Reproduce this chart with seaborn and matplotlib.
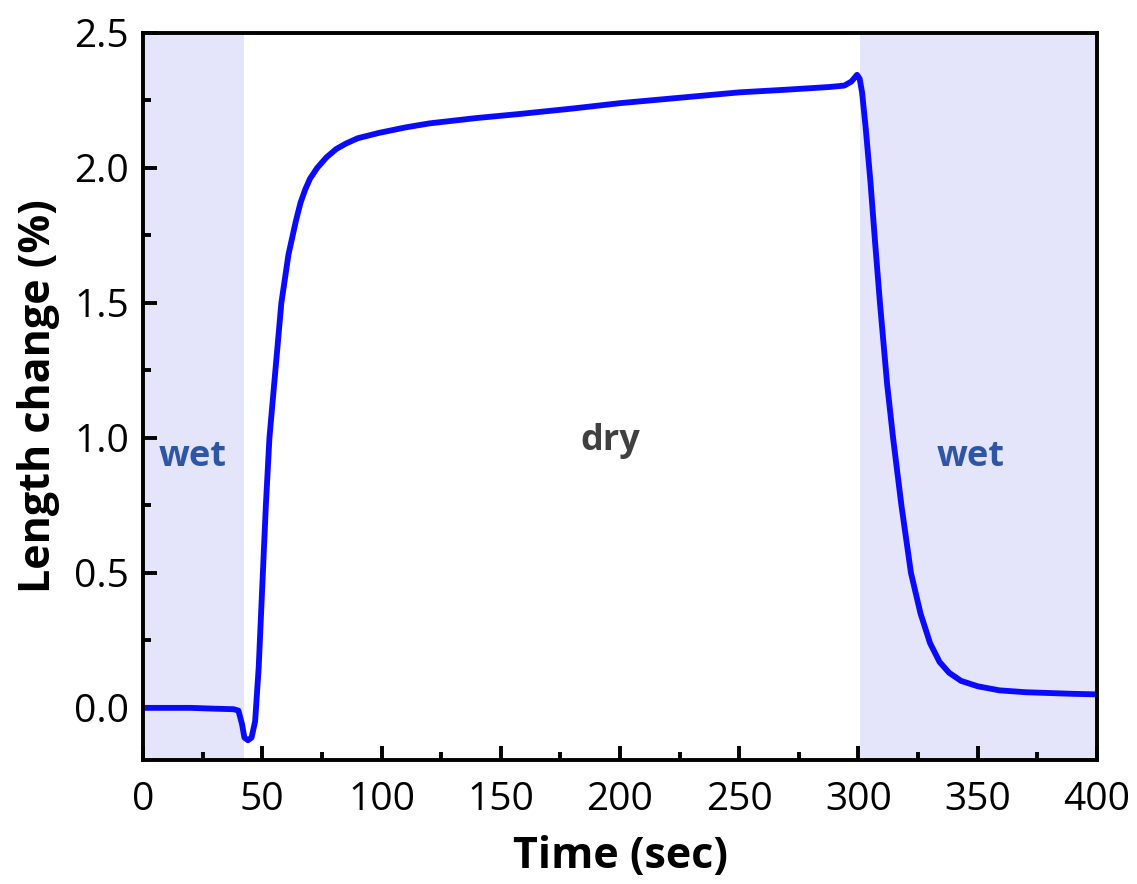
import pandas as pd
import numpy as np
import seaborn as sns
import matplotlib.pyplot as plt
from matplotlib.ticker import MultipleLocator

# Values (time in sec, length change in %)
time = [0, 10, 20, 30, 38, 40, 41.5, 42.5, 44, 45.5, 47, 48.5, 50, 51.5, 53, 55, 58, 61, 64,
        66, 68, 70, 73, 77, 81, 85, 90, 99, 110, 120, 140, 158, 180, 200, 225, 250, 270, 288, 294,
        297, 299.4, 300.5, 301.5, 303, 305, 307, 309, 312, 314.5, 318, 322, 326, 330,
        334, 338, 343, 350, 359, 370, 380, 390, 400]
length_change = [0.0, 0.0, 0.0, -0.003, -0.005, -0.01, -0.06, -0.11, -0.12, -0.11, -0.05, 0.15,
                 0.45, 0.75, 1.0, 1.2, 1.5, 1.68, 1.8, 1.87, 1.92, 1.96, 2.0, 2.04, 2.07, 2.09,
                 2.11, 2.13, 2.15, 2.165, 2.185, 2.2, 2.22, 2.24, 2.26, 2.28, 2.29, 2.3, 2.305,
                 2.32, 2.345, 2.33, 2.28, 2.15, 1.95, 1.72, 1.5, 1.2, 1.0, 0.75, 0.5, 0.35, 0.24,
                 0.17, 0.13, 0.1, 0.08, 0.065, 0.058, 0.055, 0.052, 0.05]

df = pd.DataFrame({'time': time, 'length': length_change})

sns.set_style('ticks')
plt.rcParams['font.family'] = ['Open Sans', 'DejaVu Sans']

fig = plt.figure(figsize=(11.37, 8.84), dpi=100)
ax = fig.add_axes([0.1258, 0.1403, 0.839, 0.8224])

# wet regions shaded
ax.axvspan(0, 42.5, color='#e4e4fa', lw=0, zorder=0)
ax.axvspan(300.5, 400, color='#e4e4fa', lw=0, zorder=0)

sns.lineplot(data=df, x='time', y='length', color='#0a0aff', lw=4.2, ax=ax)

ax.set_xlim(0, 400)
ax.set_ylim(-0.193, 2.5)
ax.xaxis.set_major_locator(MultipleLocator(50))
ax.xaxis.set_minor_locator(MultipleLocator(25))
ax.yaxis.set_major_locator(MultipleLocator(0.5))
ax.yaxis.set_minor_locator(MultipleLocator(0.25))
ax.yaxis.set_major_formatter(plt.FormatStrFormatter('%.1f'))

ax.tick_params(which='both', direction='in', width=2.8, labelsize=28, pad=10,
               colors='black', labelcolor='black')
ax.tick_params(axis='x', pad=15)
ax.tick_params(which='major', length=10)
ax.tick_params(which='minor', length=6)
for s in ax.spines.values():
    s.set_linewidth(2.8)
    s.set_color('black')

ax.set_xlabel('Time (sec)', fontsize=31, fontweight='bold', labelpad=12, color='black')
ax.set_ylabel('Length change (%)', fontsize=31, fontweight='bold', labelpad=10, color='black')

ax.text(21, 0.93, 'wet', fontsize=26, fontweight='bold', color='#2f56a6', ha='center', va='center')
ax.text(196, 0.99, 'dry', fontsize=26, fontweight='bold', color='#404040', ha='center', va='center')
ax.text(347, 0.93, 'wet', fontsize=26, fontweight='bold', color='#2f56a6', ha='center', va='center')

fig.savefig('out.png', dpi=100)
